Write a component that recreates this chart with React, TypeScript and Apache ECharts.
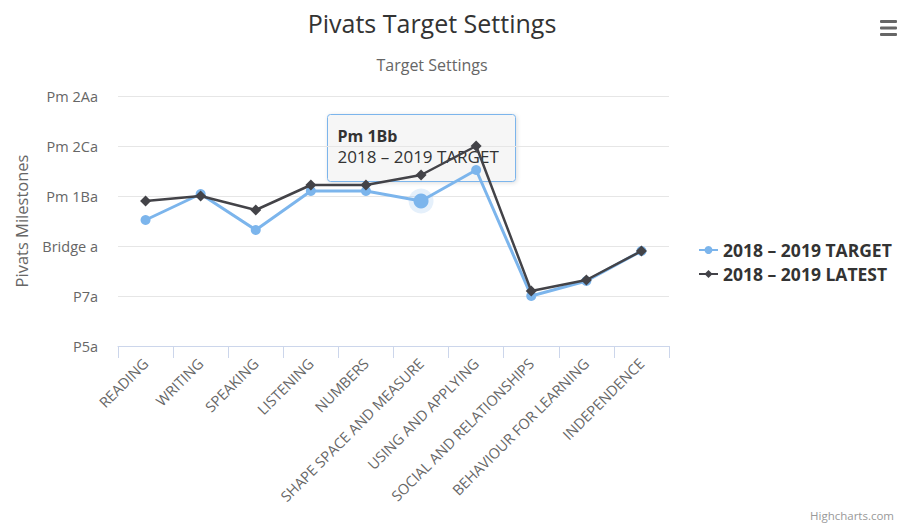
import React, { useEffect, useRef } from "react";
import * as echarts from "echarts";

const categories = [
  "READING",
  "WRITING",
  "SPEAKING",
  "LISTENING",
  "NUMBERS",
  "SHAPE SPACE AND MEASURE",
  "USING AND APPLYING",
  "SOCIAL AND RELATIONSHIPS",
  "BEHAVIOUR FOR LEARNING",
  "INDEPENDENCE",
];
const yTickLabels = ["P5a", "P7a", "Bridge a", "Pm 1Ba", "Pm 2Ca", "Pm 2Aa"];
const targetName = "2018 – 2019 TARGET";
const latestName = "2018 – 2019 LATEST";
const targetValues = [2.52, 3.04, 2.32, 3.1, 3.1, 2.9, 3.52, 1.0, 1.3, 1.9];
const latestValues = [2.9, 3.0, 2.72, 3.22, 3.22, 3.42, 4.0, 1.1, 1.32, 1.9];
const hoverIndex = 5;
const hoverLabel = "Pm 1Bb";

const FONT = "'Open Sans', 'Noto Sans', sans-serif";

export default function App() {
  const ref = useRef<HTMLDivElement>(null);
  useEffect(() => {
    if (!ref.current) return;
    const chart = echarts.init(ref.current, null, { renderer: "svg" });
    const haloData = targetValues.map((v, i) => (i === hoverIndex ? v : "-"));
    chart.setOption({
      animation: false,
      backgroundColor: "#ffffff",
      textStyle: { fontFamily: FONT },
      title: [
        {
          text: "Pivats Target Settings",
          left: 427,
          top: 5,
          textAlign: "center",
          textStyle: { fontSize: 25, fontWeight: "normal", color: "#333333", fontFamily: FONT },
        },
        {
          text: "Target Settings",
          left: 427,
          top: 52,
          textAlign: "center",
          textStyle: { fontSize: 16, fontWeight: "normal", color: "#666666", fontFamily: FONT },
        },
      ],
      legend: {
        orient: "vertical",
        left: 693,
        top: 236,
        itemWidth: 19,
        itemHeight: 10,
        itemGap: 6,
        data: [targetName, latestName],
        textStyle: { fontSize: 17.5, fontWeight: "bold", color: "#333333", fontFamily: FONT },
      },
      grid: { left: 118, top: 96, width: 551, height: 250, containLabel: false },
      xAxis: {
        type: "category",
        data: categories,
        boundaryGap: true,
        axisLine: { lineStyle: { color: "#ccd6eb", width: 1 } },
        axisTick: { show: true, length: 12, alignWithLabel: false, lineStyle: { color: "#ccd6eb" } },
        axisLabel: {
          rotate: 45,
          interval: 0,
          margin: 15,
          fontSize: 14.5,
          color: "#666666",
          fontFamily: FONT,
        },
      },
      yAxis: {
        type: "value",
        min: 0,
        max: 5,
        interval: 1,
        name: "Pivats Milestones",
        nameLocation: "middle",
        nameGap: 88,
        nameTextStyle: { fontSize: 16.5, color: "#666666", fontFamily: FONT },
        axisLine: { show: false },
        axisTick: { show: false },
        splitLine: { lineStyle: { color: "#e6e6e6", width: 1 } },
        axisLabel: {
          margin: 20,
          fontSize: 14.5,
          color: "#666666",
          fontFamily: FONT,
          formatter: (v: number) => yTickLabels[Math.round(v)] ?? "",
        },
      },
      series: [
        {
          name: "halo",
          type: "scatter",
          data: haloData,
          symbol: "circle",
          symbolSize: 25,
          itemStyle: { color: "rgba(124,181,236,0.25)" },
          z: 1,
          silent: true,
        },
        {
          name: targetName,
          type: "line",
          data: targetValues.map((v, i) =>
            i === hoverIndex ? { value: v, symbolSize: 15 } : v
          ),
          symbol: "circle",
          symbolSize: 10,
          showAllSymbol: true,
          color: "#7cb5ec",
          lineStyle: { width: 3, color: "#7cb5ec" },
          itemStyle: { color: "#7cb5ec" },
          z: 2,
        },
        {
          name: latestName,
          type: "line",
          data: latestValues,
          symbol: "diamond",
          symbolSize: 11,
          showAllSymbol: true,
          color: "#434348",
          lineStyle: { width: 2.5, color: "#434348" },
          itemStyle: { color: "#434348" },
          z: 3,
        },
      ],
      graphic: [
        {
          type: "group",
          left: 327,
          top: 114,
          z: 100,
          children: [
            {
              type: "rect",
              shape: { x: 0, y: 0, width: 188, height: 67, r: 3 },
              style: {
                fill: "rgba(247,247,247,0.85)",
                stroke: "#7cb5ec",
                lineWidth: 1,
                shadowBlur: 4,
                shadowOffsetX: 1,
                shadowOffsetY: 1,
                shadowColor: "rgba(0,0,0,0.15)",
              },
            },
            {
              type: "text",
              x: 10,
              y: 21,
              style: {
                text: hoverLabel,
                fontSize: 16,
                fontWeight: "bold",
                fill: "#333333",
                fontFamily: FONT,
                verticalAlign: "middle",
              },
            },
            {
              type: "text",
              x: 10,
              y: 42,
              style: {
                text: targetName,
                fontSize: 17,
                fill: "#333333",
                fontFamily: FONT,
                verticalAlign: "middle",
              },
            },
          ],
        },
        {
          type: "group",
          left: 880,
          top: 20,
          children: [
            { type: "rect", shape: { x: 0, y: 0, width: 17, height: 3, r: 1 }, style: { fill: "#666666" } },
            { type: "rect", shape: { x: 0, y: 6.5, width: 17, height: 3, r: 1 }, style: { fill: "#666666" } },
            { type: "rect", shape: { x: 0, y: 13, width: 17, height: 3, r: 1 }, style: { fill: "#666666" } },
          ],
        },
        {
          type: "text",
          left: 810,
          top: 509,
          style: { text: "Highcharts.com", fontSize: 11.5, fill: "#999999", fontFamily: FONT },
        },
      ],
    });
    return () => chart.dispose();
  }, []);
  return (
    <div
      ref={ref}
      style={{ position: "fixed", left: 0, top: 0, width: 897, height: 526 }}
    />
  );
}
